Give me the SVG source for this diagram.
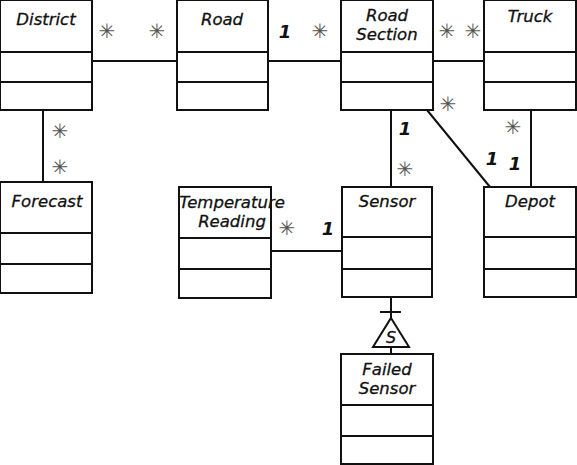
<svg xmlns="http://www.w3.org/2000/svg" width="577" height="465" viewBox="0 0 577 465">
<style>
.box{fill:#fff;stroke:#111;stroke-width:2}
.ln{stroke:#111;stroke-width:2;fill:none}
.nm{font-family:"DejaVu Sans",sans-serif;font-style:italic;font-size:16.5px;fill:#111;text-anchor:middle;stroke:#111;stroke-width:0.3}
.one{font-family:"DejaVu Sans",sans-serif;font-style:italic;font-weight:bold;font-size:18px;fill:#111;text-anchor:middle}
.st{font-family:"DejaVu Sans",sans-serif;font-size:20px;fill:#555;text-anchor:middle}
</style>
<rect width="577" height="465" fill="#fff"/>
<g id="connectors">
<line class="ln" x1="92" y1="61" x2="177" y2="61"/>
<line class="ln" x1="268" y1="61" x2="341" y2="61"/>
<line class="ln" x1="433" y1="61" x2="484" y2="61"/>
<line class="ln" x1="43" y1="110" x2="43" y2="182"/>
<line class="ln" x1="391" y1="110" x2="391" y2="187"/>
<line class="ln" x1="427" y1="110" x2="490" y2="187"/>
<line class="ln" x1="531" y1="110" x2="531" y2="187"/>
<line class="ln" x1="271" y1="251" x2="342" y2="251"/>
<line class="ln" x1="391" y1="297" x2="391" y2="318"/>
<line class="ln" x1="380" y1="312" x2="401" y2="312"/>
<polygon class="ln" points="391,318 409,347 373,347"/>
<line class="ln" x1="391" y1="347" x2="391" y2="354"/>
<text class="nm" x="391" y="343" style="font-size:16px">S</text>
<text class="st" x="107" y="38">✳︎</text>
<text class="st" x="157" y="38">✳︎</text>
<text class="one" x="285" y="38">1</text>
<text class="st" x="320" y="38">✳︎</text>
<text class="st" x="447" y="38">✳︎</text>
<text class="st" x="473" y="38">✳︎</text>
<text class="st" x="60" y="138">✳︎</text>
<text class="st" x="60" y="174">✳︎</text>
<text class="st" x="448" y="111">✳︎</text>
<text class="one" x="405" y="135">1</text>
<text class="st" x="405" y="176">✳︎</text>
<text class="st" x="513" y="134">✳︎</text>
<text class="one" x="492" y="165">1</text>
<text class="one" x="515" y="170">1</text>
<text class="st" x="287" y="235">✳︎</text>
<text class="one" x="328" y="235">1</text>
</g>
<g id="district">
<rect class="box" x="0" y="0" width="92" height="110"/>
<line class="ln" x1="0" y1="52" x2="92" y2="52"/>
<line class="ln" x1="0" y1="82" x2="92" y2="82"/>
<text class="nm" x="46" y="25">District</text>
</g>
<g id="road">
<rect class="box" x="177" y="0" width="91" height="110"/>
<line class="ln" x1="177" y1="52" x2="268" y2="52"/>
<line class="ln" x1="177" y1="82" x2="268" y2="82"/>
<text class="nm" x="222" y="25">Road</text>
</g>
<g id="road-section">
<rect class="box" x="341" y="0" width="92" height="110"/>
<line class="ln" x1="341" y1="52" x2="433" y2="52"/>
<line class="ln" x1="341" y1="82" x2="433" y2="82"/>
<text class="nm" x="387" y="21">Road</text>
<text class="nm" x="387" y="40">Section</text>
</g>
<g id="truck">
<rect class="box" x="484" y="0" width="92" height="110"/>
<line class="ln" x1="484" y1="52" x2="576" y2="52"/>
<line class="ln" x1="484" y1="82" x2="576" y2="82"/>
<text class="nm" x="530" y="22">Truck</text>
</g>
<g id="forecast">
<rect class="box" x="0" y="182" width="92" height="111"/>
<line class="ln" x1="0" y1="233" x2="92" y2="233"/>
<line class="ln" x1="0" y1="264" x2="92" y2="264"/>
<text class="nm" x="47" y="207">Forecast</text>
</g>
<g id="temperature-reading">
<rect class="box" x="179" y="187" width="92" height="111"/>
<line class="ln" x1="179" y1="238" x2="271" y2="238"/>
<line class="ln" x1="179" y1="269" x2="271" y2="269"/>
<text class="nm" x="232" y="208">Temperature</text>
<text class="nm" x="232" y="227">Reading</text>
</g>
<g id="sensor">
<rect class="box" x="342" y="187" width="90" height="110"/>
<line class="ln" x1="342" y1="237" x2="432" y2="237"/>
<line class="ln" x1="342" y1="269" x2="432" y2="269"/>
<text class="nm" x="387" y="207">Sensor</text>
</g>
<g id="depot">
<rect class="box" x="484" y="187" width="92" height="110"/>
<line class="ln" x1="484" y1="237" x2="576" y2="237"/>
<line class="ln" x1="484" y1="269" x2="576" y2="269"/>
<text class="nm" x="530" y="207">Depot</text>
</g>
<g id="failed-sensor">
<rect class="box" x="341" y="354" width="92" height="110"/>
<line class="ln" x1="341" y1="405" x2="433" y2="405"/>
<line class="ln" x1="341" y1="436" x2="433" y2="436"/>
<text class="nm" x="387" y="375">Failed</text>
<text class="nm" x="387" y="394">Sensor</text>
</g>
</svg>
